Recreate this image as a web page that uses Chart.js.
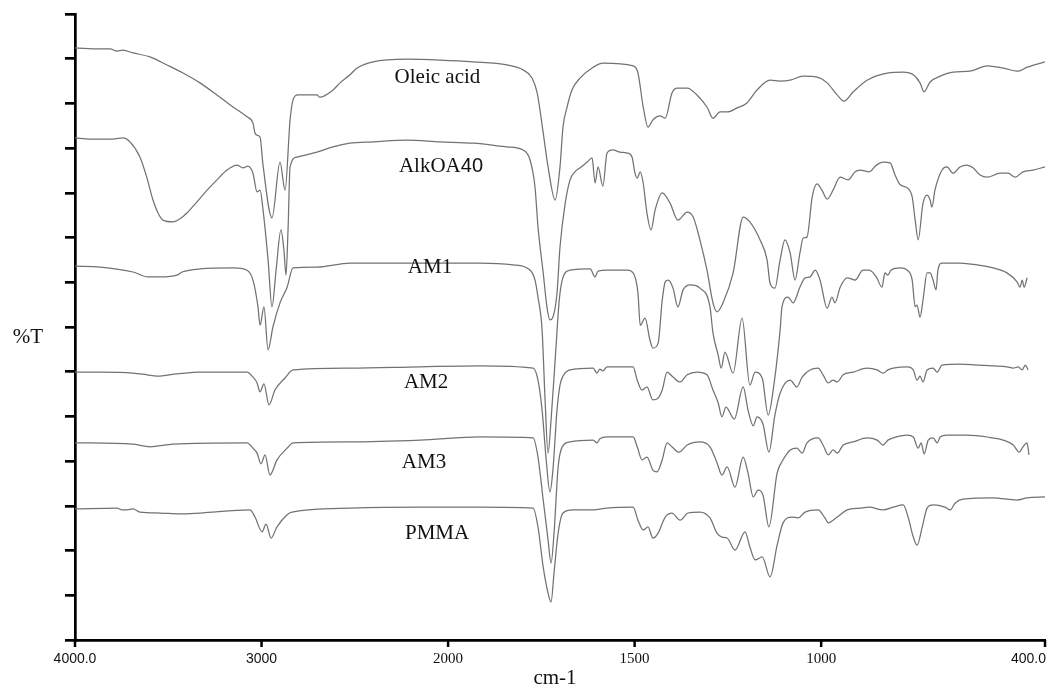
<!DOCTYPE html>
<html>
<head>
<meta charset="utf-8">
<title>FTIR spectra</title>
<script src="https://cdn.jsdelivr.net/npm/chart.js@4.4.1/dist/chart.umd.min.js"></script>
<style>
  html, body { margin: 0; padding: 0; background: #ffffff; }
  #wrap { width: 1050px; height: 690px; position: relative; }
</style>
</head>
<body>
<div id="wrap"><canvas id="spectra"></canvas></div>
<script>
// Wavenumber axis (cm-1) and its labelled ticks
const wavenumberTicks = [4000, 3000, 2000, 1500, 1000, 400];
const wavenumberTickLabels = ['4000.0', '3000', '2000', '1500', '1000', '400.0'];

// Sample names, top to bottom
const seriesNames = ['Oleic acid', 'AlkOA40', 'AM1', 'AM2', 'AM3', 'PMMA'];

// Each spectrum: [wavenumber (cm-1), offset %T]
const oleicAcid = [
  [4000,132.4],[3866,132.2],[3812,132.2],[3775,131.7],[3743,131.9],[3689,131.3],[3598,130.4],[3507,128.6],
  [3421,126.8],[3330,124.6],[3239,121.9],[3153,119.2],[3078,117.0],[3046,115.6],[3035,113.4],[3024,112.9],
  [3008,112.5],[2992,106.2],[2944,94.4],[2901,106.9],[2874,100.6],[2847,116.3],[2831,120.8],[2805,121.9],
  [2703,121.9],[2687,121.4],[2617,123.0],[2579,124.6],[2526,126.4],[2488,127.9],[2402,129.3],[2220,129.9],
  [2043,129.7],[1933,129.3],[1842,128.6],[1799,127.5],[1775,125.7],[1761,122.3],[1745,113.4],[1732,105.8],
  [1713,98.4],[1700,105.8],[1692,114.7],[1681,119.2],[1668,123.0],[1646,125.7],[1611,128.1],[1585,129.0],
  [1504,128.4],[1491,126.8],[1477,119.2],[1464,114.7],[1451,116.3],[1432,117.2],[1418,116.7],[1400,122.3],
  [1386,123.4],[1359,123.4],[1333,121.9],[1306,119.2],[1290,116.7],[1271,118.1],[1252,118.1],[1225,119.0],
  [1199,120.1],[1172,123.0],[1137,125.2],[1110,125.0],[1083,125.2],[1048,126.1],[1011,125.9],[984,124.6],
  [957,121.9],[939,120.5],[914,122.6],[877,125.2],[823,126.8],[780,127.0],[753,126.4],[735,124.6],
  [724,122.6],[708,124.8],[681,126.1],[646,127.0],[601,127.2],[555,128.4],[512,127.9],[472,127.2],
  [448,128.1],[400,129.3]
];

const alkOA40 = [
  [4000,112.3],[3920,112.0],[3812,112.0],[3743,112.3],[3705,111.4],[3652,108.0],[3614,103.3],[3582,98.4],
  [3555,95.5],[3528,93.9],[3475,93.5],[3437,94.2],[3400,95.5],[3346,98.0],[3292,100.6],[3239,102.9],
  [3185,105.1],[3132,106.2],[3099,105.6],[3073,106.0],[3046,104.4],[3024,100.2],[3008,100.6],[2992,96.2],
  [2965,85.0],[2944,74.5],[2922,82.7],[2896,91.7],[2880,87.2],[2869,81.6],[2858,91.7],[2847,105.8],
  [2810,108.0],[2703,109.1],[2617,110.3],[2526,111.1],[2402,111.4],[2220,111.8],[2043,111.4],[1933,111.1],
  [1842,110.3],[1799,109.6],[1780,107.3],[1767,101.3],[1759,92.4],[1745,82.1],[1735,74.5],[1727,71.6],
  [1719,72.2],[1708,77.6],[1700,87.9],[1686,97.7],[1673,102.9],[1660,104.7],[1646,105.6],[1627,106.9],
  [1614,107.8],[1606,102.2],[1598,105.8],[1585,101.5],[1574,108.9],[1558,109.6],[1539,109.1],[1520,108.9],
  [1507,108.0],[1499,104.4],[1493,103.3],[1485,104.7],[1477,102.2],[1467,95.5],[1456,91.7],[1445,96.2],
  [1426,100.0],[1405,97.7],[1384,93.9],[1359,95.7],[1343,94.6],[1325,89.5],[1306,82.7],[1290,75.4],
  [1279,73.4],[1263,75.4],[1236,82.1],[1209,94.6],[1191,93.5],[1164,89.5],[1145,85.0],[1137,79.8],
  [1124,78.7],[1110,85.0],[1097,89.5],[1083,86.5],[1070,80.5],[1057,86.5],[1048,89.9],[1038,90.1],
  [1024,99.1],[1011,102.0],[998,100.6],[984,98.6],[968,100.6],[949,103.5],[928,102.9],[909,104.7],
  [896,105.1],[871,104.7],[852,106.2],[834,106.9],[815,106.7],[802,104.0],[788,101.8],[769,101.1],
  [756,99.1],[748,93.9],[740,89.5],[727,97.7],[716,99.5],[708,98.4],[703,96.8],[695,100.6],
  [676,105.1],[663,105.8],[646,104.4],[628,105.8],[609,106.2],[593,105.6],[574,104.0],[555,103.5],
  [520,104.4],[499,104.4],[480,103.5],[459,104.7],[432,105.1],[400,105.8]
];

const am1 = [
  [4000,83.6],[3866,83.4],[3689,82.3],[3609,81.2],[3544,81.2],[3453,81.6],[3426,82.3],[3330,83.0],
  [3153,83.2],[3078,82.7],[3046,80.5],[3019,74.5],[3008,70.4],[2987,74.5],[2965,64.9],[2939,70.0],
  [2901,75.4],[2863,78.9],[2831,83.2],[2703,83.4],[2526,84.3],[2258,84.3],[2000,84.3],[1914,84.3],
  [1826,83.9],[1780,82.7],[1767,80.5],[1759,76.7],[1748,69.3],[1740,53.7],[1732,41.8],[1724,49.2],
  [1713,62.6],[1702,76.0],[1694,80.5],[1673,82.7],[1619,83.0],[1606,81.2],[1598,82.5],[1574,82.7],
  [1520,82.7],[1504,82.1],[1491,77.6],[1485,70.4],[1472,72.0],[1459,67.1],[1451,65.3],[1437,66.4],
  [1426,76.0],[1418,80.1],[1410,80.5],[1397,78.7],[1384,74.5],[1370,78.3],[1351,79.4],[1325,78.7],
  [1298,74.5],[1290,68.7],[1276,63.7],[1268,60.8],[1258,64.4],[1236,59.7],[1212,72.0],[1191,57.0],
  [1177,59.9],[1158,58.6],[1142,50.3],[1126,57.5],[1110,69.3],[1105,74.5],[1089,76.7],[1075,75.4],
  [1057,78.9],[1043,81.0],[1030,81.2],[1016,82.7],[1003,80.5],[984,74.2],[971,76.7],[963,75.4],
  [949,78.9],[930,81.0],[909,80.5],[888,82.7],[871,82.7],[852,81.2],[837,78.9],[829,82.1],
  [821,81.6],[813,82.7],[788,83.2],[769,82.7],[756,80.5],[748,74.5],[743,74.9],[735,72.2],
  [727,76.0],[716,82.1],[708,82.1],[700,80.5],[692,78.3],[687,82.7],[676,84.3],[628,84.3],
  [582,83.9],[539,83.2],[502,82.1],[475,80.1],[467,78.9],[461,80.5],[456,78.9],[448,81.0]
];

const am2 = [
  [4000,59.9],[3866,59.9],[3689,59.7],[3614,59.3],[3560,59.0],[3453,59.5],[3330,59.9],[3078,59.9],
  [3046,58.8],[3024,57.5],[3008,55.5],[2987,57.3],[2960,52.6],[2928,55.9],[2874,58.6],[2831,60.4],
  [2526,60.8],[2150,61.1],[1914,61.3],[1772,60.8],[1759,58.1],[1748,51.4],[1737,40.3],[1727,33.1],
  [1719,38.0],[1708,51.4],[1700,57.0],[1692,59.0],[1673,60.4],[1611,60.8],[1601,59.7],[1593,60.6],
  [1585,60.2],[1574,61.1],[1504,61.1],[1493,58.1],[1480,55.9],[1467,56.6],[1451,53.7],[1437,54.1],
  [1426,55.9],[1413,59.9],[1397,58.8],[1378,57.7],[1359,59.3],[1333,59.9],[1306,59.3],[1290,55.9],
  [1276,53.0],[1266,49.9],[1255,52.1],[1233,49.4],[1209,56.6],[1196,51.4],[1182,47.9],[1172,49.9],
  [1156,48.3],[1140,42.0],[1124,50.3],[1110,55.2],[1083,58.1],[1065,56.6],[1051,58.8],[1030,60.4],
  [1008,60.8],[995,59.3],[981,57.5],[968,58.1],[957,57.7],[941,59.3],[914,59.9],[877,60.8],
  [850,60.4],[834,59.7],[821,60.4],[807,60.8],[769,61.1],[753,60.4],[743,58.1],[735,59.0],
  [727,57.7],[716,60.4],[700,60.8],[689,59.9],[676,61.5],[628,61.7],[582,61.5],[539,61.3],
  [502,61.1],[485,60.8],[472,61.1],[461,60.4],[453,61.5],[445,60.4]
];

const am3 = [
  [4000,44.1],[3689,43.8],[3635,43.4],[3598,43.2],[3475,43.8],[3078,44.1],[3046,42.9],[3024,41.8],
  [3003,39.4],[2981,41.4],[2955,36.9],[2917,40.3],[2863,42.9],[2831,44.1],[2526,44.3],[2150,44.7],
  [1914,45.4],[1772,45.2],[1759,40.9],[1745,31.3],[1732,22.4],[1724,17.2],[1716,23.9],[1705,38.7],
  [1694,43.2],[1673,44.3],[1611,44.7],[1601,44.1],[1593,45.0],[1574,45.4],[1504,45.4],[1493,43.2],
  [1480,40.3],[1467,40.9],[1451,38.0],[1440,37.6],[1426,40.3],[1413,44.1],[1400,43.2],[1381,42.0],
  [1359,43.6],[1325,44.3],[1298,43.2],[1279,39.6],[1266,36.9],[1252,38.7],[1231,34.2],[1209,40.9],
  [1196,37.3],[1182,32.0],[1169,33.5],[1156,32.4],[1140,25.3],[1118,37.3],[1102,40.3],[1083,42.5],
  [1065,42.9],[1051,41.8],[1038,44.1],[1008,45.2],[995,43.6],[981,41.4],[968,42.5],[957,41.8],
  [941,43.6],[914,44.3],[877,45.2],[850,44.7],[834,43.6],[821,44.7],[807,45.2],[769,45.8],
  [753,45.4],[740,42.9],[732,44.1],[724,41.6],[713,44.7],[700,45.2],[689,44.1],[681,45.4],
  [663,45.8],[609,45.8],[555,45.4],[512,44.7],[485,43.6],[469,42.0],[459,43.2],[448,44.1],[443,41.4]
];

const pmma = [
  [4000,29.3],[3775,29.5],[3748,29.1],[3721,29.1],[3689,29.3],[3652,28.6],[3544,28.4],[3437,28.2],
  [3330,28.4],[3062,29.1],[3035,27.5],[2997,24.2],[2976,25.9],[2949,22.8],[2917,25.3],[2863,28.0],
  [2837,28.6],[2526,29.5],[2150,29.7],[1914,29.7],[1772,29.5],[1759,25.3],[1745,16.3],[1732,10.5],
  [1724,8.5],[1716,15.0],[1705,23.9],[1692,28.4],[1665,29.1],[1611,29.1],[1574,29.5],[1504,29.7],
  [1491,26.8],[1477,24.6],[1464,25.3],[1451,22.8],[1437,23.9],[1418,27.5],[1400,28.4],[1378,26.8],
  [1357,28.4],[1325,28.6],[1298,27.3],[1279,23.9],[1266,23.0],[1252,22.8],[1231,20.1],[1204,24.2],
  [1191,20.8],[1177,17.9],[1158,18.6],[1137,14.1],[1118,21.2],[1102,26.2],[1078,27.5],[1062,27.3],
  [1043,28.6],[1008,29.1],[990,27.3],[981,26.2],[957,27.5],[930,29.1],[896,29.5],[871,29.7],
  [834,29.1],[807,29.7],[780,30.2],[767,27.5],[753,23.0],[743,21.2],[729,25.3],[716,29.5],
  [700,30.2],[668,29.7],[654,29.1],[641,30.6],[620,31.5],[539,31.8],[475,31.3],[448,31.8],[400,32.0]
];

const spectra = [oleicAcid, alkOA40, am1, am2, am3, pmma];

// Where each sample name is written: [wavenumber, offset %T]
const nameAnchors = [[2057, 125.9], [2038, 105.8], [2097, 83.2], [2118, 57.7], [2129, 39.8], [2059, 23.9]];

// Spectrometer-style x axis: 4000-2000 cm-1 at one scale, 2000-400 cm-1 expanded two-fold
class WavenumberScale extends Chart.LinearScale {
  _span(value) {
    return value >= 2000 ? 4000 - value : 2000 + (2000 - value) * 2;
  }
  getPixelForValue(value) {
    return this.left + (this._span(value) / 5200) * this.width;
  }
  getValueForPixel(pixel) {
    const u = ((pixel - this.left) / this.width) * 5200;
    return u <= 2000 ? 4000 - u : 2000 - (u - 2000) / 2;
  }
}
WavenumberScale.id = 'wavenumber';
WavenumberScale.defaults = Chart.LinearScale.defaults;
Chart.register(WavenumberScale);

const SERIF = '"Liberation Serif", "Times New Roman", serif';
const SANS = '"Liberation Sans", Arial, sans-serif';
const tickFonts = ['14px ' + SANS, '14px ' + SANS, '15px ' + SERIF, '15px ' + SERIF, '15px ' + SERIF, '14px ' + SANS];

// Writes a name centred on (x, y); a trailing number is set in a sans face
function drawName(ctx, name, x, y) {
  const m = name.match(/^(.*?[A-Za-z])(\d+)$/);
  const parts = m && m[1].length > 3 ? [[m[1], '21px ' + SERIF], [m[2], '20px ' + SANS]] : [[name, '21px ' + SERIF]];
  const widths = parts.map(([t, f]) => { ctx.font = f; return ctx.measureText(t).width; });
  let cx = x - widths.reduce((a, b) => a + b, 0) / 2;
  ctx.textAlign = 'left';
  parts.forEach(([t, f], i) => { ctx.font = f; ctx.fillText(t, cx, y); cx += widths[i]; });
}

const annotations = {
  id: 'annotations',
  afterDraw(chart) {
    const { ctx, chartArea } = chart;
    const xs = chart.scales.x;
    const ys = chart.scales.y;
    ctx.save();
    // x tick marks and labels
    ctx.strokeStyle = '#000';
    ctx.lineWidth = 2.5;
    ctx.fillStyle = '#111';
    ctx.textAlign = 'center';
    ctx.textBaseline = 'middle';
    wavenumberTicks.forEach((v, i) => {
      const px = xs.getPixelForValue(v);
      ctx.beginPath();
      ctx.moveTo(px, chartArea.bottom);
      ctx.lineTo(px, chartArea.bottom + 7);
      ctx.stroke();
      ctx.font = tickFonts[i];
      const w = ctx.measureText(wavenumberTickLabels[i]).width;
      const cx = Math.min(px, chart.width - w / 2 - 4);
      ctx.fillText(wavenumberTickLabels[i], cx, chartArea.bottom + 19);
    });
    // axis titles
    ctx.font = '21px ' + SERIF;
    ctx.fillText('cm-1', 555, chartArea.bottom + 38);
    ctx.fillText('%T', 28, 337);
    // sample names
    seriesNames.forEach((name, i) => {
      const [w, t] = nameAnchors[i];
      drawName(ctx, name, xs.getPixelForValue(w), ys.getPixelForValue(t));
    });
    ctx.restore();
  }
};

new Chart(document.getElementById('spectra'), {
  type: 'line',
  data: {
    datasets: seriesNames.map((name, i) => ({
      label: name,
      data: spectra[i].map(([x, y]) => ({ x, y })),
      borderColor: '#727272',
      borderWidth: 1.25,
      pointRadius: 0,
      fill: false,
      cubicInterpolationMode: 'monotone'
    }))
  },
  options: {
    responsive: true,
    maintainAspectRatio: false,
    animation: false,
    events: [],
    layout: { padding: { left: 64, right: 5, top: 14, bottom: 50 } },
    plugins: { legend: { display: false }, tooltip: { enabled: false } },
    scales: {
      x: {
        type: 'wavenumber',
        min: 400,
        max: 4000,
        grid: { display: false, drawTicks: false },
        border: { display: true, color: '#000', width: 2.7 },
        ticks: { display: false },
        afterBuildTicks: (scale) => { scale.ticks = wavenumberTicks.map(v => ({ value: v })); },
        afterFit: (scale) => { scale.height = 0; }
      },
      y: {
        type: 'linear',
        min: 0,
        max: 140,
        ticks: { display: false, stepSize: 10 },
        grid: { display: true, drawOnChartArea: false, drawTicks: true, tickLength: 10, color: '#000', lineWidth: 2.7 },
        border: { display: true, color: '#000', width: 2.7 },
        afterFit: (scale) => { scale.width = 11; }
      }
    }
  },
  plugins: [annotations]
});
</script>
</body>
</html>
